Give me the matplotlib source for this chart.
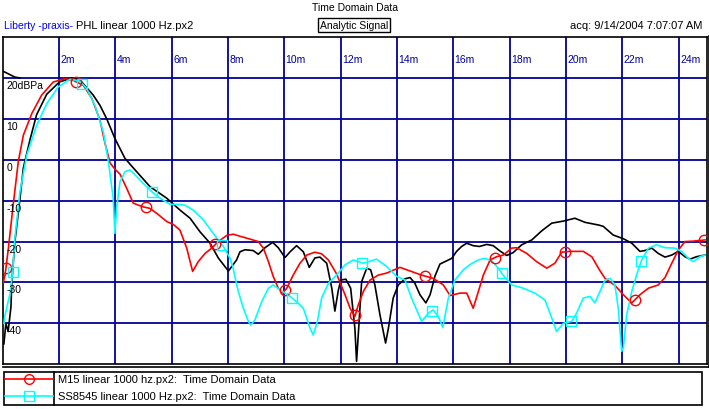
import numpy as np
import matplotlib
matplotlib.use("Agg")
import matplotlib.pyplot as plt
from matplotlib.lines import Line2D
from matplotlib.patches import Rectangle
import matplotlib.transforms as mtransforms

plt.rcParams['font.family'] = ['Liberation Sans', 'DejaVu Sans']
plt.rcParams['font.size'] = 7.5

# --- data (time in ms, level in dBPa) ---
x_ticks = [2, 4, 6, 8, 10, 12, 14, 16, 18, 20, 22, 24]
y_ticks = [20, 10, 0, -10, -20, -30, -40]
y_labels = ["20dBPa", "10", "0", "-10", "-20", "-30", "-40"]

black_t = [0.03, 0.44, 0.62, np.nan,
           0.05, 0.12, 0.20, 0.30, 0.33, 0.44, 0.62, 0.74, 0.98, 1.21, 1.57, 2.02, 2.46, 2.75,
           3.22, 3.46, 3.70, 3.99, 4.35, 4.76, 5.24, 5.83, 6.30, 6.66, 7.01, 7.37, 7.66, 8.02,
           8.31, 8.43, 8.61, 8.90, 9.08, 9.32, 9.59, 9.79, 10.03, 10.21, 10.44, 10.68, 10.89,
           11.09, 11.27, 11.51, 11.69, 11.80, 11.92, 12.01, 12.19, 12.36, 12.51, 12.57, 12.63,
           12.75, 12.93, 13.07, 13.22, 13.40, 13.60, 13.70, 13.87, 14.05, 14.29, 14.47, 14.64,
           14.82, 15.03, 15.18, 15.35, 15.53, 15.77, 15.95, 16.12, 16.30, 16.48, 16.71, 16.93,
           17.19, 17.42, 17.66, 17.90, 18.13, 18.43, 18.79, 19.14, 19.50, 19.91, 20.32, 20.68,
           21.19, 21.33, 21.68, 22.04, 22.34, 22.63, 22.80, 23.05, 23.28, 23.52, 23.76, 23.99,
           24.23, 24.41, 24.64, 24.94]
black_db = [21.6, 20.2, 20.0, np.nan,
            -45, -40, -42, -36, -30, -20, -9.5, -2, 5, 11, 16, 19, 20, 19.5,
            15.8, 13.3, 10, 5.2, 0.3, -2.9, -6.6, -9.4, -12.3, -14.3, -17.6, -20.4, -24, -27.2,
            -24.5, -22.5, -22, -22.2, -23.1, -21.5, -20.2, -21.5, -23.9, -22.5, -21, -22.5, -26.3,
            -24, -23.8, -25.3, -31.4, -37, -32, -29.4, -29.2, -31.4, -41.2, -49.3, -42.8,
            -29.8, -26.5, -26.9, -30.6, -37.9, -44.8, -41.2, -33.8, -30.6, -29.1, -28.8, -30.2,
            -33, -35, -33, -28.5, -25.5, -24.7, -24.1, -22.4, -21.2, -20.4, -21, -21.2,
            -20.7, -21, -22.3, -23.4, -22.7, -20.8, -19.6, -17.4, -15.5, -15, -14.3, -15.3,
            -16, -16.3, -18.4, -19.3, -20.4, -22.4, -22.2, -21.6, -22.9, -23.8, -23.3, -22.4,
            -23.7, -24.3, -23.7, -23.3]

red_t = [0.03, 0.09, 0.21, 0.38, 0.56, 0.74, 1.04, 1.39, 1.80, 2.22, 2.51, 2.87, 3.17, 3.46,
         3.64, 3.82, 3.99, 4.17, 4.41, 4.64, 4.98, 5.24, 5.53, 5.83, 6.06, 6.30, 6.54, 6.75,
         6.95, 7.19, 7.43, 7.66, 7.96, 8.19, 8.43, 8.79, 9.08, 9.26, 9.44, 9.61, 9.79, 9.95,
         10.09, 10.32, 10.56, 10.80, 11.09, 11.33, 11.57, 11.86, 12.16, 12.34, 12.51, 12.63,
         12.81, 13.05, 13.34, 13.64, 14.11, 14.47, 14.88, 15.29, 15.65, 15.89, 16.24, 16.48,
         16.71, 16.93, 17.07, 17.31, 17.54, 17.78, 18.08, 18.25, 18.61, 18.96, 19.32, 19.61,
         19.85, 20.15, 20.62, 20.92, 21.19, 21.39, 21.74, 22.04, 22.34, 22.63, 22.93, 23.28,
         23.52, 23.76, 23.99, 24.23, 24.52, 24.94]
red_db = [-30, -28.2, -21.6, -11, -0.5, 6, 11.3, 15.8, 19, 19.8, 19.4, 18.2, 15, 9.7,
          4.0, -0.8, -2.3, -3.5, -7, -10.6, -11.5, -11.9, -13.4, -15.1, -15.8, -17.2, -21.6, -27.3,
          -24.9, -22.9, -21.6, -20, -18.5, -18.2, -18.7, -19.4, -20, -21.6, -24.9, -28.5, -31.4, -32.6,
          -31.4, -28.2, -25.3, -23.3, -22.6, -23, -24.5, -27.9, -33, -36.3, -38.3, -35.5,
          -32.2, -29.4, -28.2, -27.7, -26.3, -27.2, -28.2, -29, -30.6, -33.2, -32.6, -32.6,
          -36.3, -31.4, -28.2, -24.5, -23.7, -23.3, -21.6, -21.5, -22.9, -24.9, -26.5, -25.3,
          -22.6, -22.4, -22.4, -23.7, -26.9, -29, -30.7, -33, -35, -33, -31.4, -30.6,
          -28.8, -25.3, -22.1, -20, -19.9, -19.6]

cyan_t = [0.05, 0.09, 0.27, 0.36, 0.44, 0.62, 0.86, 1.21, 1.57, 1.98, 2.40, 2.75, 2.99, 3.28,
          3.58, 3.76, 3.93, 3.99, 4.05, 4.17, 4.35, 4.53, 4.76, 5.00, 5.30, 5.59, 5.95, 6.24,
          6.48, 6.77, 7.13, 7.48, 7.84, 8.08, 8.19, 8.37, 8.55, 8.73, 8.81, 8.96, 9.20, 9.44,
          9.61, 9.85, 10.21, 10.44, 10.68, 10.92, 11.03, 11.18, 11.33, 11.57, 11.86, 12.16,
          12.45, 12.81, 13.28, 13.64, 13.99, 14.29, 14.52, 14.88, 15.12, 15.29, 15.47, 15.63,
          15.83, 16.06, 16.36, 16.60, 16.89, 17.13, 17.37, 17.60, 17.78, 18.08, 18.49, 18.90,
          19.26, 19.50, 19.67, 19.91, 20.21, 20.38, 20.62, 20.86, 21.03, 21.21, 21.39, 21.57,
          21.74, 21.86, 21.98, 22.04, 22.16, 22.34, 22.51, 22.69, 22.93, 23.22, 23.52, 23.87,
          24.11, 24.35, 24.52, 24.76, 24.94]
cyan_db = [-40, -38, -32.6, -27.5, -19.2, -7.8, 1.1, 8.4, 13.7, 17.8, 19.7, 19.2, 17.4, 13.3,
           6.8, -0.5, -9.4, -18, -11.9, -5.4, -2.9, -2.5, -4.1, -5.8, -7.8, -9.4, -10.9, -10.9,
           -11.1, -12.3, -14.7, -18, -21.2, -24.1, -26.6, -32.2, -36.3, -39.5, -40.4, -39.2, -34.7, -31.4,
           -30.6, -31.8, -33.4, -34.7, -36.3, -41.2, -42.8, -39.5, -33.8, -30.2, -28.2, -25.7,
           -24.5, -25.3, -24.3, -26.1, -28.5, -29.4, -33.8, -39.5, -37.5, -36.7, -38.3, -41,
           -33.8, -29.4, -26.9, -25.6, -24.5, -24.1, -24.7, -26.5, -28.3, -30.6, -31.4, -32.6,
           -34.3, -38.7, -42, -40, -39.5, -37.5, -33.8, -33.4, -35, -32.2, -29.4, -29,
           -30.6, -36.3, -46.8, -46, -37.9, -32.2, -28.2, -24.5, -21.6, -20.8, -21.5, -21.6,
           -22.4, -24.1, -24.9, -23.7, -23.3]

# marker spacing used by the analyser (ms)
mark_step = 2.48
red_mark_t = 0.12 + mark_step * np.arange(11)
cyan_mark_t = 0.36 + mark_step * np.arange(10)

W, H = 709, 410
GRID = '#000099'


def fx(x):
    return x / W


def fy(y):
    return 1 - y / H


fig = plt.figure(figsize=(W / 100, H / 100), dpi=100)
fig.patch.set_facecolor('white')

ax = fig.add_axes([fx(2.5), fy(365.3), 704.2 / W, (365.3 - 38) / H])
ax.set_xlim(0, 25)
ax.set_ylim(-50, 30)
ax.set_xticks(x_ticks)
ax.set_yticks(y_ticks)
ax.tick_params(length=0, labelbottom=False, labelleft=False)
ax.grid(True, color=GRID, lw=1.3)
ax.set_axisbelow(True)
for s in ax.spines.values():
    s.set_color('black')
    s.set_linewidth(1.2)

ax.plot(black_t, black_db, color='black', lw=1.2, zorder=3)
ax.plot(red_t, red_db, color='#ff0000', lw=1.2, zorder=4)
ax.plot(cyan_t, cyan_db, color='#00ffff', lw=1.2, zorder=5)
ax.plot(red_mark_t, np.interp(red_mark_t, red_t, red_db), ls='none', marker='o', ms=7.5,
        mfc='none', mec='#ff0000', mew=1, zorder=6)
ax.plot(cyan_mark_t, np.interp(cyan_mark_t, cyan_t, cyan_db), ls='none', marker='s', ms=7.5,
        mfc='none', mec='#00ffff', mew=1, zorder=6)

# tick labels drawn inside the plot
xt = mtransforms.offset_copy(ax.get_xaxis_transform(), fig=fig, x=1.5, y=-22, units='dots')
for t in x_ticks:
    ax.text(t, 1, f"{t}m", transform=xt, color=GRID, ha='left', va='center', zorder=7)
yt = mtransforms.offset_copy(ax.get_yaxis_transform(), fig=fig, x=4, y=-2, units='dots')
for v, lab in zip(y_ticks, y_labels):
    ax.text(0, v, lab, transform=yt, color='black', ha='left', va='top', zorder=7)

# shadow border on right and bottom
fig.add_artist(Line2D([fx(3), fx(708.5)], [fy(368), fy(368)], color='black', lw=1.2))
fig.add_artist(Line2D([fx(708.5), fx(708.5)], [fy(37), fy(368)], color='black', lw=1.2))

# header
fig.text(fx(355), fy(8), "Time Domain Data", ha='center', va='center')
fig.text(fx(3.5), fy(26), "Liberty -praxis-", color='#0000ff', ha='left', va='center')
fig.text(fx(76), fy(26), "PHL linear 1000 Hz.px2", ha='left', va='center', fontsize=8)
fig.text(fx(354), fy(26), "Analytic Signal", ha='center', va='center',
         bbox=dict(boxstyle='square,pad=0.2', fc='white', ec='black', lw=1))
fig.text(fx(702), fy(26), "acq: 9/14/2004 7:07:07 AM", ha='right', va='center', fontsize=8)

# legend
fig.add_artist(Rectangle((fx(3.5), fy(406)), fx(701.5) - fx(3.5), fy(372.5) - fy(406),
                         fill=False, ec='black', lw=1.2))
fig.add_artist(Line2D([fx(54.3), fx(54.3)], [fy(372.5), fy(406)], color='black', lw=1.2))
legend_rows = [("M15 linear 1000 hz.px2:  Time Domain Data", '#ff0000', 'o', 380.3),
               ("SS8545 linear 1000 Hz.px2:  Time Domain Data", '#00ffff', 's', 396.7)]
for label, col, mk, yy in legend_rows:
    fig.add_artist(Line2D([fx(5), fx(53)], [fy(yy), fy(yy)], color=col, lw=1.2))
    fig.add_artist(Line2D([fx(29.3)], [fy(yy)], ls='none', marker=mk, ms=7,
                          mfc='none', mec=col, mew=1))
    fig.text(fx(57.7), fy(yy), label, ha='left', va='center', fontsize=8)

fig.savefig('out.png', dpi=100)
